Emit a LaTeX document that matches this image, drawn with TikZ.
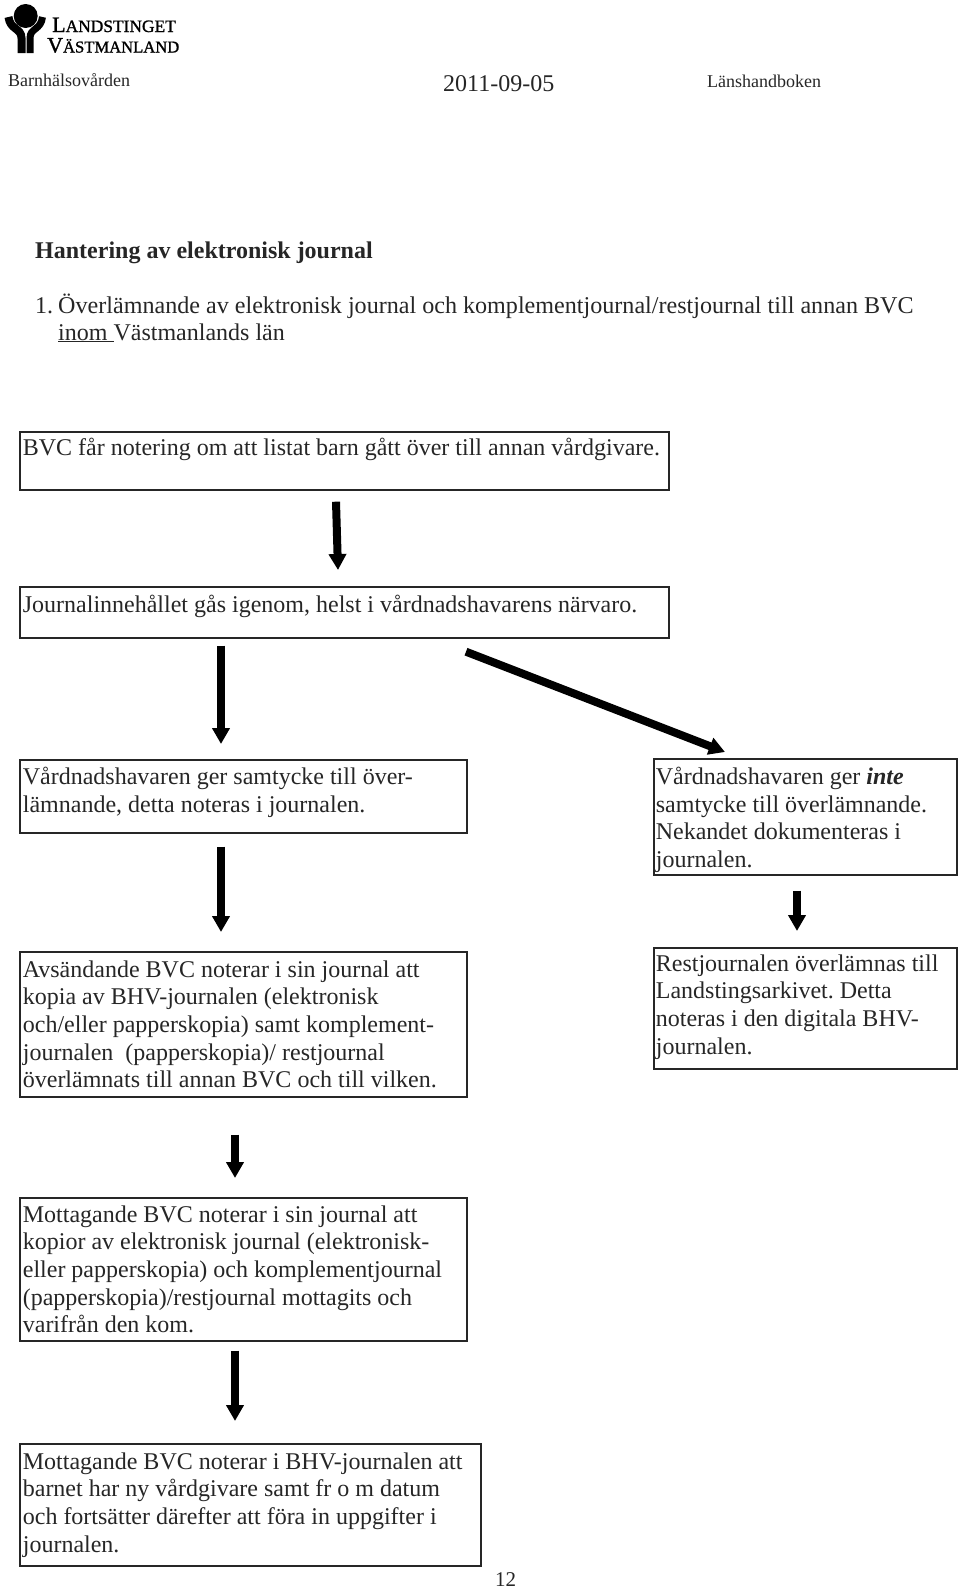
\documentclass[tikz,border=0pt]{standalone}
\usepackage{fontspec}
\setmainfont{Liberation Serif}
\newfontfamily\logofont[FakeBold=1.2]{Liberation Serif}
\frenchspacing
\usetikzlibrary{arrows.meta}

\tikzset{
  stepbox/.style={draw=black!85, line width=1.7pt, anchor=north west, align=flush left, inner xsep=3pt, inner ysep=0pt,
    font=\fontsize{24}{27.7}\selectfont, text=black!85},
  plain/.style={anchor=base west, inner sep=0pt, text=black!85},
  flow/.style={line width=8pt, -{Triangle[length=16pt,width=17pt]}, black},
}

\begin{document}
\begin{tikzpicture}[x=1pt,y=-1pt]
\useasboundingbox (0,0) rectangle (960,1590);

% Logo
\fill (25.7,16) circle (12);
\draw[line width=8pt] (8.5,17) .. controls (10,30) and (21.5,28) .. (21.5,38) -- (21.5,53);
\draw[line width=7pt] (42.5,17) .. controls (41,30) and (30,28) .. (30,38) -- (30,53);
\node[plain, text=black] (logoa) at (52,32) {\logofont\fontsize{22}{22}\selectfont L\fontsize{17.4}{22}\selectfont ANDSTINGET};
\node[plain, text=black] (logob) at (47,52.5) {\logofont\fontsize{22}{22}\selectfont V\fontsize{16.6}{22}\selectfont ÄSTMANLAND};

% Header
\node[plain, font=\fontsize{18}{20}\selectfont] (unit) at (8,86) {Barnhälsovården};
\node[plain, font=\fontsize{24}{26}\selectfont] (date) at (443,91) {2011-09-05};
\node[plain, font=\fontsize{18}{20}\selectfont] (book) at (707,87) {Länshandboken};

% Headings
\node[plain, font=\fontsize{24}{26}\selectfont\bfseries] (title) at (35,258) {Hantering av elektronisk journal};
\node[plain, font=\fontsize{24}{26}\selectfont] (num) at (35,313) {1.};
\node[plain, font=\fontsize{24.1}{26}\selectfont] (heada) at (58,313) {Överlämnande av elektronisk journal och komplementjournal/restjournal till annan BVC};
\node[plain, font=\fontsize{24}{26}\selectfont] (headb) at (58,340) {\underline{inom\ }Västmanlands län};

% Boxes
\node[stepbox, text width=643pt, minimum height=58pt, text depth=28pt] (notering) at (19,431)
  {BVC får notering om att listat barn gått över till annan vårdgivare.};
\node[stepbox, text width=643pt, minimum height=51pt, text depth=18pt] (genomgang) at (19,586)
  {Journalinnehållet gås igenom, helst i vårdnadshavarens närvaro.};
\node[stepbox, text width=441pt, minimum height=73pt, text depth=41pt] (samtycke) at (19,759)
  {Vårdnadshavaren ger samtycke till över-\\lämnande, detta noteras i journalen.};
\node[stepbox, text width=299pt, inner xsep=2pt, minimum height=116pt, text depth=82pt] (nekande) at (653,758)
  {Vårdnadshavaren ger \textbf{\textit{inte}}\\samtycke till överlämnande.\\Nekandet dokumenteras i\\journalen.};
\node[stepbox, text width=441pt, minimum height=145pt] (avsandande) at (19,951)
  {Avsändande BVC noterar i sin journal att\\kopia av BHV-journalen (elektronisk\\och/eller papperskopia) samt komplement-\\journalen \ (papperskopia)/ restjournal\\överlämnats till annan BVC och till vilken.};
\node[stepbox, text width=299pt, inner xsep=2pt, minimum height=121pt, text depth=91pt] (arkiv) at (653,947)
  {Restjournalen överlämnas till\\Landstingsarkivet. Detta\\noteras i den digitala BHV-\\journalen.};
\node[stepbox, text width=441pt, minimum height=143pt, text depth=111pt] (mottagandea) at (19,1197)
  {Mottagande BVC noterar i sin journal att\\kopior av elektronisk journal (elektronisk-\\eller papperskopia) och komplementjournal\\(papperskopia)/restjournal mottagits och\\varifrån den kom.};
\node[stepbox, text width=455pt, minimum height=122pt] (mottagandeb) at (19,1443)
  {Mottagande BVC noterar i BHV-journalen att\\barnet har ny vårdgivare samt fr o m datum\\och fortsätter därefter att föra in uppgifter i\\journalen.};

% Arrows
\draw[flow] ([shift={(317,11)}]notering.south west) -- ([shift={(319,-16)}]genomgang.north west);
\draw[flow] ([shift={(202,7)}]genomgang.south west) -- ([shift={(202,-15)}]samtycke.north west);
\draw[flow] ([shift={(447,13)}]genomgang.south west) -- ([shift={(72,-6)}]nekande.north west);
\draw[flow] ([shift={(202,13)}]samtycke.south west) -- ([shift={(202,-19)}]avsandande.north west);
\draw[flow] ([shift={(144,15)}]nekande.south west) -- ([shift={(144,-16)}]arkiv.north west);
\draw[flow] ([shift={(216,37)}]avsandande.south west) -- ([shift={(216,-19)}]mottagandea.north west);
\draw[flow] ([shift={(216,9)}]mottagandea.south west) -- ([shift={(216,-22)}]mottagandeb.north west);

% Page number
\node[plain, font=\fontsize{21}{23}\selectfont] (page) at (495,1586) {12};
\end{tikzpicture}
\end{document}
